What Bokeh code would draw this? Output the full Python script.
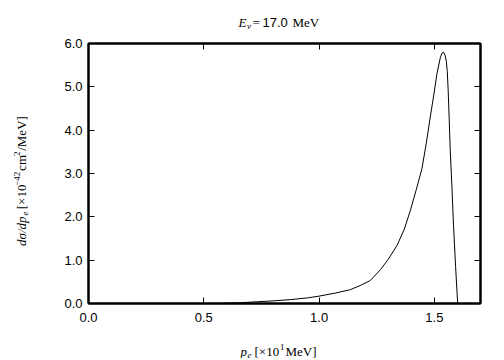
import math
from bokeh.plotting import figure
from bokeh.models import LinearAxis, FixedTicker, Range1d, CustomJSTickFormatter
from bokeh.layouts import column, row
from bokeh.core.properties import value
from bokeh.embed import file_html
from bokeh.resources import INLINE

# data
pe = [0.55, 0.65, 0.73, 0.80, 0.876, 0.95, 1.00, 1.07, 1.136, 1.18, 1.222, 1.266,
      1.30, 1.338, 1.37, 1.396, 1.42, 1.446, 1.465, 1.482, 1.50, 1.511, 1.526,
      1.533, 1.540, 1.547, 1.552, 1.556, 1.560, 1.564, 1.569, 1.576, 1.583, 1.592, 1.601]
dsig = [0.0, 0.015, 0.04, 0.06, 0.09, 0.13, 0.17, 0.24, 0.32, 0.42, 0.53, 0.78,
        1.02, 1.34, 1.72, 2.15, 2.6, 3.11, 3.7, 4.30, 4.9, 5.30, 5.68,
        5.78, 5.80, 5.72, 5.58, 5.35, 4.9, 4.3, 3.5, 2.7, 1.8, 0.85, 0.0]
x_ticks = [0.0, 0.5, 1.0, 1.5]
y_ticks = [0.0, 1.0, 2.0, 3.0, 4.0, 5.0, 6.0]
title_parts = ["E", "ν", "=", "17.0", "MeV"]
xlabel_parts = ["p", "e", "[×10", "1", "MeV]"]
ylabel_parts = ["dσ/dp", "e", "[×10", "−42", "cm", "2", "/MeV]"]

SANS = "Liberation Sans"
SERIF = "Liberation Serif"


def blank_fig(w, h):
    f = figure(width=w, height=h, output_backend="svg", toolbar_location=None,
               x_range=Range1d(0, w), y_range=Range1d(0, h),
               x_axis_type=None, y_axis_type=None, min_border=0)
    f.outline_line_color = None
    f.xgrid.visible = False
    f.ygrid.visible = False
    f.background_fill_color = "white"
    f.border_fill_color = "white"
    return f


def put(f, text, x, y, font=SERIF, style="normal", size="13px", angle=0.0):
    f.text(x=[x], y=[y], text=[text], text_font=value(font),
           text_font_style=value(style), text_font_size=value(size),
           text_color="black", text_baseline="alphabetic", text_align="left",
           angle=angle)


# ---- main plot (page y 33..331) ----
p = figure(width=474, height=298, output_backend="svg", toolbar_location=None,
           x_range=Range1d(0, 1.7), y_range=Range1d(0, 6.0),
           min_border_left=58, min_border_right=24, min_border_top=10,
           min_border_bottom=28, x_axis_type=None, y_axis_type=None)
p.background_fill_color = "white"
p.border_fill_color = "white"
p.outline_line_color = "black"
p.outline_line_width = 2
p.xgrid.visible = False
p.ygrid.visible = False


def mk_axis(ticks, show):
    ax = LinearAxis(ticker=FixedTicker(ticks=ticks))
    ax.major_tick_in = 6
    ax.major_tick_out = 0
    ax.minor_tick_in = 0
    ax.minor_tick_out = 0
    ax.major_tick_line_color = "black"
    ax.major_tick_line_width = 1
    ax.axis_line_color = "black"
    ax.axis_line_width = 2
    ax.major_label_text_font = SANS
    ax.major_label_text_font_size = "13px"
    ax.major_label_text_color = "black"
    if not show:
        ax.major_label_text_alpha = 0
        ax.major_label_text_font_size = "1px"
        ax.major_label_standoff = 0
    ax.formatter = CustomJSTickFormatter(code="return tick.toFixed(1);")
    return ax


xb = mk_axis(x_ticks, True); xb.major_label_standoff = 9
yl = mk_axis(y_ticks, True); yl.major_label_standoff = 6
xt = mk_axis(x_ticks, False)
yr = mk_axis(y_ticks, False)
p.add_layout(xb, "below")
p.add_layout(yl, "left")
p.add_layout(xt, "above")
p.add_layout(yr, "right")

p.line(pe, dsig, line_color="black", line_width=1)

# ---- title strip (page y 0..33) ----
top = blank_fig(504, 33)
put(top, title_parts[0], 238, 11, style="italic")
put(top, title_parts[1], 246.5, 8, style="italic", size="9px")
put(top, title_parts[2], 252, 11)
put(top, title_parts[3], 262, 11, font=SANS)
put(top, title_parts[4], 292, 11)

# ---- y label strip (page x 0..30, y 33..331) ----
left = blank_fig(30, 298)
A = math.pi / 2
put(left, ylabel_parts[0], 21, 66, style="italic", angle=A)
put(left, ylabel_parts[1], 24, 101, style="italic", size="9px", angle=A)
put(left, ylabel_parts[2], 21, 108, angle=A)
put(left, ylabel_parts[3], 16, 135, size="9px", angle=A)
put(left, ylabel_parts[4], 21, 152, angle=A)
put(left, ylabel_parts[5], 16, 169, size="9px", angle=A)
put(left, ylabel_parts[6], 21, 175, angle=A)

# ---- x label strip (page y 331..358) ----
bot = blank_fig(504, 27)
put(bot, xlabel_parts[0], 240, 7, style="italic")
put(bot, xlabel_parts[1], 247, 4, style="italic", size="9px")
put(bot, xlabel_parts[2], 254, 7)
put(bot, xlabel_parts[3], 279.5, 12, size="9px")
put(bot, xlabel_parts[4], 285, 7)

layout = column(top, row(left, p, spacing=0), bot, spacing=0)
open("out.html", "w").write(file_html(layout, INLINE))
